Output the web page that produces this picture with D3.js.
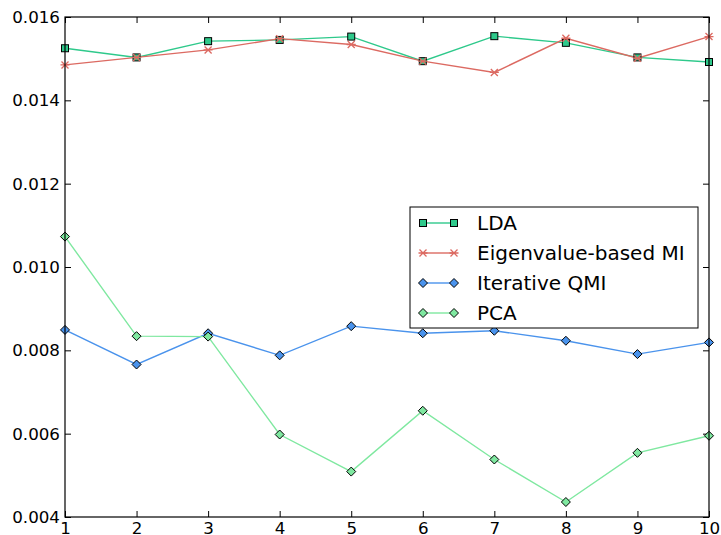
<!DOCTYPE html>
<html>
<head>
<meta charset="utf-8">
<script src="https://cdn.jsdelivr.net/npm/d3@7"></script>
<style>
  body { margin: 0; background: #fff; }
  svg { display: block; }
</style>
</head>
<body>
<div id="chart"></div>
<script>
// x positions (number of features)
const steps = [1, 2, 3, 4, 5, 6, 7, 8, 9, 10];

// values
const lda   = [0.01525, 0.01503, 0.01542, 0.01545, 0.01553, 0.01494, 0.01554, 0.01538, 0.01503, 0.01492];
const eigMI = [0.01485, 0.01503, 0.01521, 0.01548, 0.01534, 0.01494, 0.01467, 0.01549, 0.01501, 0.01553];
const qmi   = [0.00849, 0.00766, 0.00841, 0.00788, 0.00858, 0.00841, 0.00847, 0.00823, 0.00791, 0.00819];
const pca   = [0.01073, 0.00834, 0.00833, 0.00598, 0.00509, 0.00655, 0.00538, 0.00436, 0.00554, 0.00595];

const yTicks = [0.004, 0.006, 0.008, 0.010, 0.012, 0.014, 0.016];

const series = [
  { name: "LDA", values: lda, color: "#2ec98b", marker: "square" },
  { name: "Eigenvalue-based MI", values: eigMI, color: "#dc6a62", marker: "star" },
  { name: "Iterative QMI", values: qmi, color: "#4a93ec", marker: "diamond" },
  { name: "PCA", values: pca, color: "#7fe8a0", marker: "diamond" }
];

const width = 721, height = 535;
const margin = { top: 17, right: 12, bottom: 18, left: 65 };
const font = "DejaVu Sans, sans-serif";
const fontSize = 16.7;
const legendFontSize = 20;

const x = d3.scaleLinear().domain([1, 10]).range([margin.left, width - margin.right]);
const y = d3.scaleLinear().domain([0.004, 0.016]).range([height - margin.bottom, margin.top]);

const svg = d3.select("#chart").append("svg")
  .attr("width", width)
  .attr("height", height);

// axes: ticks point inward on all four sides
const styleAxis = g => {
  g.select(".domain").remove();
  g.selectAll(".tick line").attr("stroke", "#000");
  g.selectAll(".tick text")
    .attr("fill", "#000")
    .attr("font-family", font)
    .attr("font-size", fontSize);
};

svg.append("g")
  .attr("transform", `translate(0,${y.range()[0]})`)
  .call(d3.axisBottom(x).tickValues(steps).tickFormat(d3.format("d")).tickSize(-6).tickPadding(5))
  .call(styleAxis);

svg.append("g")
  .attr("transform", `translate(0,${y.range()[1]})`)
  .call(d3.axisTop(x).tickValues(steps).tickFormat("").tickSize(-6))
  .call(styleAxis);

svg.append("g")
  .attr("transform", `translate(${x.range()[0]},0)`)
  .call(d3.axisLeft(y).tickValues(yTicks).tickFormat(d3.format(".3f")).tickSize(-6).tickPadding(5))
  .call(styleAxis);

svg.append("g")
  .attr("transform", `translate(${x.range()[1]},0)`)
  .call(d3.axisRight(y).tickValues(yTicks).tickFormat("").tickSize(-6))
  .call(styleAxis);

// markers
function drawMarker(g, kind, color) {
  if (kind === "square") {
    g.append("rect")
      .attr("x", -3.5).attr("y", -3.5).attr("width", 7).attr("height", 7)
      .attr("fill", color).attr("stroke", "#000").attr("stroke-width", 1);
  } else if (kind === "diamond") {
    g.append("path")
      .attr("d", "M0,-4.5L4.5,0L0,4.5L-4.5,0Z")
      .attr("fill", color).attr("stroke", "#000").attr("stroke-width", 1);
  } else {
    g.append("path")
      .attr("d", "M-3.5,-3.5L3.5,3.5M-3.5,3.5L3.5,-3.5M-4.5,0L4.5,0")
      .attr("fill", "none").attr("stroke", color).attr("stroke-width", 1.3);
  }
}

const line = d3.line()
  .x((d, i) => x(steps[i]))
  .y(d => y(d));

const plot = svg.append("g");

series.forEach(s => {
  plot.append("path")
    .datum(s.values)
    .attr("fill", "none")
    .attr("stroke", s.color)
    .attr("stroke-width", 1.4)
    .attr("d", line);
});

series.forEach(s => {
  plot.selectAll(null)
    .data(s.values)
    .join("g")
    .attr("transform", (d, i) => `translate(${x(steps[i])},${y(d)})`)
    .each(function () { drawMarker(d3.select(this), s.marker, s.color); });
});

// frame
svg.append("rect")
  .attr("x", x.range()[0]).attr("y", y.range()[1])
  .attr("width", x.range()[1] - x.range()[0])
  .attr("height", y.range()[0] - y.range()[1])
  .attr("fill", "none")
  .attr("stroke", "#000")
  .attr("stroke-width", 1.2);

// legend
const legend = svg.append("g").attr("transform", "translate(410,207)");
legend.append("rect")
  .attr("width", 288).attr("height", 121)
  .attr("fill", "#fff").attr("stroke", "#000").attr("stroke-width", 1);

const item = legend.selectAll("g.item")
  .data(series)
  .join("g")
  .attr("class", "item")
  .attr("transform", (d, i) => `translate(0,${16 + i * 30})`);

item.append("line")
  .attr("x1", 13).attr("x2", 44)
  .attr("stroke", d => d.color).attr("stroke-width", 1.4);

item.each(function (d) {
  const g = d3.select(this);
  drawMarker(g.append("g").attr("transform", "translate(13,0)"), d.marker, d.color);
  drawMarker(g.append("g").attr("transform", "translate(44,0)"), d.marker, d.color);
});

item.append("text")
  .attr("x", 67)
  .attr("dy", "0.36em")
  .attr("font-family", font)
  .attr("font-size", legendFontSize)
  .text(d => d.name);
</script>
</body>
</html>
